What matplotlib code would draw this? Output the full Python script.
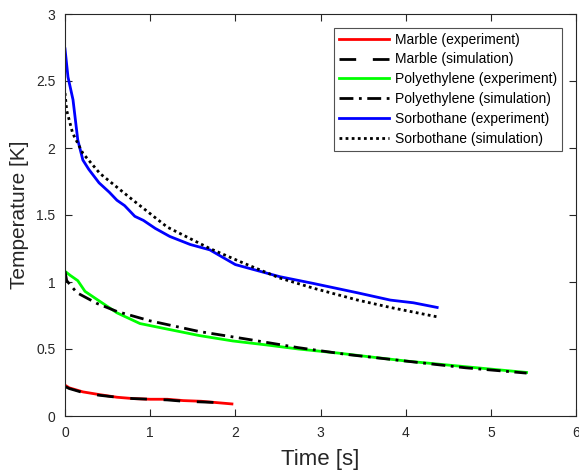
import matplotlib
matplotlib.use("Agg")
import matplotlib.pyplot as plt

plt.rcParams['font.family'] = ['Liberation Sans', 'DejaVu Sans']

# Marble
marble_exp_t = [0.0, 0.05, 0.21, 0.4, 0.61, 0.8, 1.0, 1.2, 1.39, 1.6, 1.78, 1.96]
marble_exp_T = [0.23, 0.21, 0.18, 0.16, 0.14, 0.13, 0.125, 0.125, 0.115, 0.11, 0.10, 0.09]
marble_sim_t = [0.0, 0.05, 0.21, 0.4, 0.61, 0.8, 1.0, 1.2, 1.39, 1.6, 1.8]
marble_sim_T = [0.22, 0.205, 0.175, 0.155, 0.14, 0.13, 0.125, 0.12, 0.11, 0.105, 0.10]

# Polyethylene
poly_exp_t = [0.0, 0.06, 0.15, 0.235, 0.375, 0.61, 0.88, 1.19, 1.58, 1.97, 2.37, 2.74, 3.2, 3.6, 4.01, 4.5, 5.0, 5.42]
poly_exp_T = [1.08, 1.05, 1.01, 0.93, 0.87, 0.77, 0.69, 0.65, 0.60, 0.56, 0.53, 0.50, 0.47, 0.44, 0.41, 0.38, 0.35, 0.325]
poly_sim_t = [0.0, 0.02, 0.14, 0.375, 0.61, 1.0, 1.58, 2.17, 2.74, 3.3, 4.0, 4.7, 5.42]
poly_sim_T = [1.08, 1.01, 0.92, 0.84, 0.78, 0.71, 0.63, 0.57, 0.51, 0.46, 0.41, 0.36, 0.32]

# Sorbothane
sorb_exp_t = [0.0, 0.035, 0.094, 0.15, 0.21, 0.28, 0.40, 0.52, 0.61, 0.70, 0.82, 0.92, 1.06, 1.23, 1.47, 1.70,
              2.0, 2.52, 2.91, 3.43, 3.82, 4.09, 4.37]
sorb_exp_T = [2.74, 2.53, 2.36, 2.06, 1.91, 1.84, 1.74, 1.67, 1.61, 1.57, 1.49, 1.46, 1.40, 1.34, 1.28, 1.24,
              1.13, 1.04, 0.99, 0.92, 0.865, 0.845, 0.81]
sorb_sim_t = [0.0, 0.02, 0.09, 0.21, 0.41, 0.8, 1.2, 1.70, 2.1, 2.52, 2.91, 3.43, 3.82, 4.37]
sorb_sim_T = [2.41, 2.28, 2.11, 1.96, 1.81, 1.61, 1.41, 1.25, 1.14, 1.03, 0.955, 0.866, 0.81, 0.74]

fig = plt.figure(figsize=(5.79, 4.72), dpi=100)
ax = fig.add_axes([65/579, 1 - 416/472, (576-65)/579, (416-14)/472])

lw = 2.0
ax.plot(marble_exp_t, marble_exp_T, color='#ff0000', lw=lw, label='Marble (experiment)')
ax.plot(marble_sim_t, marble_sim_T, color='black', lw=lw, ls=(0, (6, 6)), label='Marble (simulation)')
ax.plot(poly_exp_t, poly_exp_T, color='#00ff00', lw=lw, label='Polyethylene (experiment)')
ax.plot(poly_sim_t, poly_sim_T, color='black', lw=lw, ls=(0, (5, 2, 1, 2)), label='Polyethylene (simulation)')
ax.plot(sorb_exp_t, sorb_exp_T, color='#0000ff', lw=lw, label='Sorbothane (experiment)')
ax.plot(sorb_sim_t, sorb_sim_T, color='black', lw=lw, ls=(0, (1, 1.2)), label='Sorbothane (simulation)')

ax.set_xlim(0, 6)
ax.set_ylim(0, 3)
ax.set_xticks([0, 1, 2, 3, 4, 5, 6])
ax.set_yticks([0, 0.5, 1, 1.5, 2, 2.5, 3])
ax.set_yticklabels(['0', '0.5', '1', '1.5', '2', '2.5', '3'])

gray = '#262626'
for s in ax.spines.values():
    s.set_color('#262626')
    s.set_linewidth(0.8)
ax.tick_params(direction='in', top=True, right=True, length=5, width=0.8,
               colors=gray, labelsize=10, labelcolor=gray, pad=7)

ax.set_xlabel('Time [s]', fontsize=16, color=gray, labelpad=7)
ax.set_ylabel('Temperature [K]', fontsize=15, color=gray, labelpad=5)

leg = ax.legend(loc='upper right', bbox_to_anchor=(0.972, 0.966), fontsize=10,
                frameon=True, fancybox=False, edgecolor='#262626', handlelength=3.6,
                handletextpad=0.4, borderpad=0.35, labelspacing=0.42, borderaxespad=0)
leg.get_frame().set_linewidth(0.8)
for t in leg.get_texts():
    t.set_color('black')

fig.savefig('out.png', dpi=100)
